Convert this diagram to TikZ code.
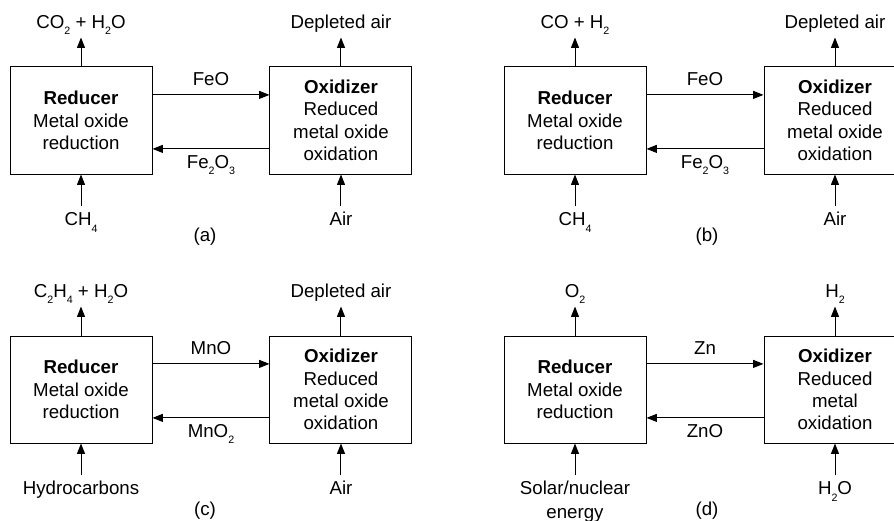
\documentclass[tikz,border=0pt]{standalone}
\usepackage{fontspec}
\setmainfont{Liberation Sans}
\usetikzlibrary{arrows.meta,positioning}

\newcommand\chsub[1]{\raisebox{-4.6pt}{\fontsize{7.6pt}{7.6pt}\selectfont#1}}

\begin{document}
\begin{tikzpicture}[
    every node/.style={font=\fontsize{13.3pt}{15.9pt}\selectfont},
    box/.style={rectangle, draw=black, line width=0.7pt, minimum width=3.55cm, minimum height=2.675cm, align=center, inner sep=0pt},
    flow/.style={inner sep=0pt, inner ysep=2.25mm, text height=0.72em, text depth=0pt, align=center},
    arr/.style={-{Triangle[length=2.6mm,width=2mm]}, line width=0.7pt}
]
\useasboundingbox (0,0) rectangle (22.35,13.025);
\clip (0,0) rectangle (22.35,13.025);

% (a)
\node[box] (reda) at (2.025,10.0125) {\textbf{Reducer}\\Metal oxide\\reduction};
\node[box, right=2.925cm of reda] (oxia) {\textbf{Oxidizer}\\Reduced\\metal oxide\\oxidation};
\node[flow, above=7.25mm of reda] (outa) {CO\chsub{2} + H\chsub{2}O};
\node[flow, below=8mm of reda] (ina) {CH\chsub{4}};
\node[flow, above=7.25mm of oxia] (exa) {Depleted air};
\node[flow, below=8mm of oxia] (aira) {Air};
\node (capa) at (5.125,7.1) {(a)};

\draw[arr] ([yshift=6.4mm]reda.east) -- node[flow, above] {FeO} ([yshift=6.4mm]oxia.west);
\draw[arr] ([yshift=-7.1mm]oxia.west) -- node[flow, below] {Fe\chsub{2}O\chsub{3}} ([yshift=-7.1mm]reda.east);
\draw[arr] (reda) -- (outa);
\draw[arr] (ina) -- (reda);
\draw[arr] (oxia) -- (exa);
\draw[arr] (aira) -- (oxia);

% (b)
\node[box] (redb) at (14.375,10.0125) {\textbf{Reducer}\\Metal oxide\\reduction};
\node[box, right=2.925cm of redb] (oxib) {\textbf{Oxidizer}\\Reduced\\metal oxide\\oxidation};
\node[flow, above=7.25mm of redb] (outb) {CO + H\chsub{2}};
\node[flow, below=8mm of redb] (inb) {CH\chsub{4}};
\node[flow, above=7.25mm of oxib] (exb) {Depleted air};
\node[flow, below=8mm of oxib] (airb) {Air};
\node (capb) at (17.675,7.1) {(b)};

\draw[arr] ([yshift=6.4mm]redb.east) -- node[flow, above] {FeO} ([yshift=6.4mm]oxib.west);
\draw[arr] ([yshift=-7.1mm]oxib.west) -- node[flow, below] {Fe\chsub{2}O\chsub{3}} ([yshift=-7.1mm]redb.east);
\draw[arr] (redb) -- (outb);
\draw[arr] (inb) -- (redb);
\draw[arr] (oxib) -- (exb);
\draw[arr] (airb) -- (oxib);

% (c)
\node[box] (redc) at (2.025,3.2875) {\textbf{Reducer}\\Metal oxide\\reduction};
\node[box, right=2.925cm of redc] (oxic) {\textbf{Oxidizer}\\Reduced\\metal oxide\\oxidation};
\node[flow, above=7.25mm of redc] (outc) {C\chsub{2}H\chsub{4} + H\chsub{2}O};
\node[flow, below=8mm of redc] (inc) {Hydrocarbons};
\node[flow, above=7.25mm of oxic] (exc) {Depleted air};
\node[flow, below=8mm of oxic] (airc) {Air};
\node (capc) at (5.125,0.25) {(c)};

\draw[arr] ([yshift=6.4mm]redc.east) -- node[flow, above] {MnO} ([yshift=6.4mm]oxic.west);
\draw[arr] ([yshift=-7.1mm]oxic.west) -- node[flow, below] {MnO\chsub{2}} ([yshift=-7.1mm]redc.east);
\draw[arr] (redc) -- (outc);
\draw[arr] (inc) -- (redc);
\draw[arr] (oxic) -- (exc);
\draw[arr] (airc) -- (oxic);

% (d)
\node[box] (redd) at (14.375,3.2875) {\textbf{Reducer}\\Metal oxide\\reduction};
\node[box, right=2.925cm of redd] (oxid) {\textbf{Oxidizer}\\Reduced\\metal\\oxidation};
\node[flow, above=7.25mm of redd] (outd) {O\chsub{2}};
\node[flow, below=8mm of redd, text height=24.2pt] (ind) {Solar/nuclear\\[1.5pt]energy};
\node[flow, above=7.25mm of oxid] (exd) {H\chsub{2}};
\node[flow, below=8mm of oxid] (waterd) {H\chsub{2}O};
\node (capd) at (17.675,0.25) {(d)};

\draw[arr] ([yshift=6.4mm]redd.east) -- node[flow, above] {Zn} ([yshift=6.4mm]oxid.west);
\draw[arr] ([yshift=-7.1mm]oxid.west) -- node[flow, below] {ZnO} ([yshift=-7.1mm]redd.east);
\draw[arr] (redd) -- (outd);
\draw[arr] (ind) -- (redd);
\draw[arr] (oxid) -- (exd);
\draw[arr] (waterd) -- (oxid);
\end{tikzpicture}
\end{document}
